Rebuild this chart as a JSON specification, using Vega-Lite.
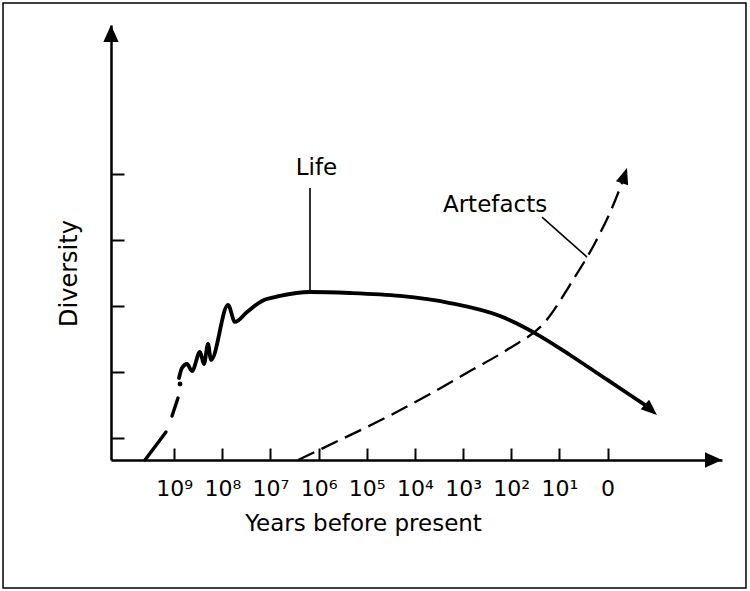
{
  "$schema": "https://vega.github.io/schema/vega-lite/v6.json",
  "autosize": {"type": "none"},
  "padding": {"left": 111, "top": 25, "right": 28, "bottom": 131},
  "width": 611,
  "height": 435,
  "background": "white",
  "config": {"view": {"stroke": null}, "font": "DejaVu Sans"},
  "datasets": {
    "frame": [{"t": 12.553, "t2": -2.874, "d": 7.591, "d2": -1.273}],
    "life_early": [
      {"seg": "a", "t": 9.605, "d": 0.6667},
      {"seg": "a", "t": 9.169, "d": 1.091},
      {"seg": "b", "t": 9.044, "d": 1.333},
      {"seg": "b", "t": 8.92, "d": 1.606}
    ],
    "life_dot": [{"t": 8.878, "d": 1.818}],
    "life": [
      {"t": 8.899, "d": 1.909},
      {"t": 8.837, "d": 2.061},
      {"t": 8.733, "d": 2.121},
      {"t": 8.629, "d": 2.015},
      {"t": 8.463, "d": 2.303},
      {"t": 8.38, "d": 2.121},
      {"t": 8.297, "d": 2.424},
      {"t": 8.234, "d": 2.182},
      {"t": 7.881, "d": 3.015},
      {"t": 7.736, "d": 2.758},
      {"t": 7.487, "d": 2.909},
      {"t": 7.175, "d": 3.076},
      {"t": 6.802, "d": 3.152},
      {"t": 6.179, "d": 3.212},
      {"t": 5.348, "d": 3.197},
      {"t": 4.31, "d": 3.152},
      {"t": 3.272, "d": 3.045},
      {"t": 2.234, "d": 2.848},
      {"t": 1.403, "d": 2.545},
      {"t": 0.78, "d": 2.258},
      {"t": 0.157, "d": 1.955},
      {"t": -0.466, "d": 1.652},
      {"t": -0.84, "d": 1.47}
    ],
    "artefacts": [
      {"t": 6.428, "d": 0.6667},
      {"t": 5.556, "d": 0.97},
      {"t": 4.58, "d": 1.318},
      {"t": 3.687, "d": 1.667},
      {"t": 2.857, "d": 2.015},
      {"t": 2.026, "d": 2.364},
      {"t": 1.299, "d": 2.758},
      {"t": 0.718, "d": 3.394},
      {"t": 0.261, "d": 3.955},
      {"t": -0.092, "d": 4.485},
      {"t": -0.3, "d": 4.864}
    ],
    "leaders": [
      {"t": 6.179, "d": 4.788, "t2": 6.179, "d2": 3.212},
      {"t": 1.361, "d": 4.348, "t2": 0.427, "d2": 3.742}
    ],
    "arrows": [
      {"name": "yaxis", "t": 10.311, "d": 7.2576},
      {"name": "xaxis", "t": -2.376, "d": 0.6667},
      {"name": "life", "t": -1.026, "d": 1.348},
      {"name": "artefacts", "t": -0.403, "d": 5.091}
    ],
    "labels": [
      {"label": "Life", "t": 6.044, "d": 4.985},
      {"label": "Artefacts", "t": 2.337, "d": 4.424}
    ]
  },
  "encoding": {
    "x": {
      "field": "t",
      "type": "quantitative",
      "scale": {"domain": [-2.376, 10.311], "reverse": true, "nice": false, "zero": false},
      "axis": {
        "values": [9, 8, 7, 6, 5, 4, 3, 2, 1, 0],
        "labelExpr": "datum.value == 0 ? '0' : '10' + ['¹','²','³','⁴','⁵','⁶','⁷','⁸','⁹'][datum.value - 1]",
        "grid": false,
        "domainColor": "black",
        "domainWidth": 2.5,
        "tickColor": "black",
        "tickWidth": 2,
        "tickSize": -12,
        "labelPadding": 30,
        "labelFont": "DejaVu Sans",
        "labelFontSize": 22,
        "labelColor": "black",
        "labelFlush": false,
        "labelOverlap": false,
        "title": "Years before present",
        "titleFont": "DejaVu Sans",
        "titleFontSize": 23,
        "titleFontWeight": "normal",
        "titleColor": "black",
        "titleX": 252,
        "titleY": 52,
        "titleAlign": "center",
        "titleBaseline": "top"
      }
    },
    "y": {
      "field": "d",
      "type": "quantitative",
      "scale": {"domain": [0.6667, 7.2576], "nice": false, "zero": false},
      "axis": {
        "values": [1, 2, 3, 4, 5],
        "labels": false,
        "grid": false,
        "domainColor": "black",
        "domainWidth": 2.5,
        "tickColor": "black",
        "tickWidth": 2,
        "tickSize": -13,
        "title": "Diversity",
        "titleFont": "DejaVu Sans",
        "titleFontSize": 24,
        "titleFontWeight": "normal",
        "titleColor": "black",
        "titleAngle": -90,
        "titleX": -42,
        "titleY": 248,
        "titleAlign": "center",
        "titleBaseline": "middle"
      }
    }
  },
  "layer": [
    {
      "data": {"name": "frame"},
      "mark": {"type": "rect", "filled": false, "stroke": "black", "strokeWidth": 1.5},
      "encoding": {"x2": {"field": "t2"}, "y2": {"field": "d2"}}
    },
    {
      "data": {"name": "life_early"},
      "mark": {"type": "line", "color": "black", "strokeWidth": 3.4, "strokeCap": "round"},
      "encoding": {"detail": {"field": "seg"}}
    },
    {
      "data": {"name": "life_dot"},
      "mark": {"type": "point", "shape": "circle", "filled": true, "color": "black", "size": 24, "opacity": 1}
    },
    {
      "data": {"name": "life"},
      "mark": {"type": "line", "color": "black", "strokeWidth": 3.8, "interpolate": "monotone", "strokeJoin": "round", "strokeCap": "round"}
    },
    {
      "data": {"name": "artefacts"},
      "mark": {"type": "line", "color": "black", "strokeWidth": 2.3, "interpolate": "monotone", "strokeDash": [18, 8]}
    },
    {
      "data": {"name": "leaders"},
      "mark": {"type": "rule", "color": "black", "strokeWidth": 1.6},
      "encoding": {"x2": {"field": "t2"}, "y2": {"field": "d2"}}
    },
    {
      "data": {"name": "arrows"},
      "transform": [{"filter": "datum.name == 'yaxis'"}],
      "mark": {"type": "point", "shape": "M0,0L-0.45,1L0.45,1Z", "size": 1156, "filled": true, "color": "black", "opacity": 1, "angle": 0}
    },
    {
      "data": {"name": "arrows"},
      "transform": [{"filter": "datum.name == 'xaxis'"}],
      "mark": {"type": "point", "shape": "M0,0L-0.45,1L0.45,1Z", "size": 1156, "filled": true, "color": "black", "opacity": 1, "angle": 90}
    },
    {
      "data": {"name": "arrows"},
      "transform": [{"filter": "datum.name == 'life'"}],
      "mark": {"type": "point", "shape": "M0,0L-0.4,1L0.4,1Z", "size": 1024, "filled": true, "color": "black", "opacity": 1, "angle": 131}
    },
    {
      "data": {"name": "arrows"},
      "transform": [{"filter": "datum.name == 'artefacts'"}],
      "mark": {"type": "point", "shape": "M0,0L-0.4,1L0.4,1Z", "size": 1024, "filled": true, "color": "black", "opacity": 1, "angle": 18}
    },
    {
      "data": {"name": "labels"},
      "mark": {"type": "text", "font": "DejaVu Sans", "fontSize": 23, "align": "center", "baseline": "alphabetic", "color": "black"},
      "encoding": {"text": {"field": "label"}}
    }
  ]
}
